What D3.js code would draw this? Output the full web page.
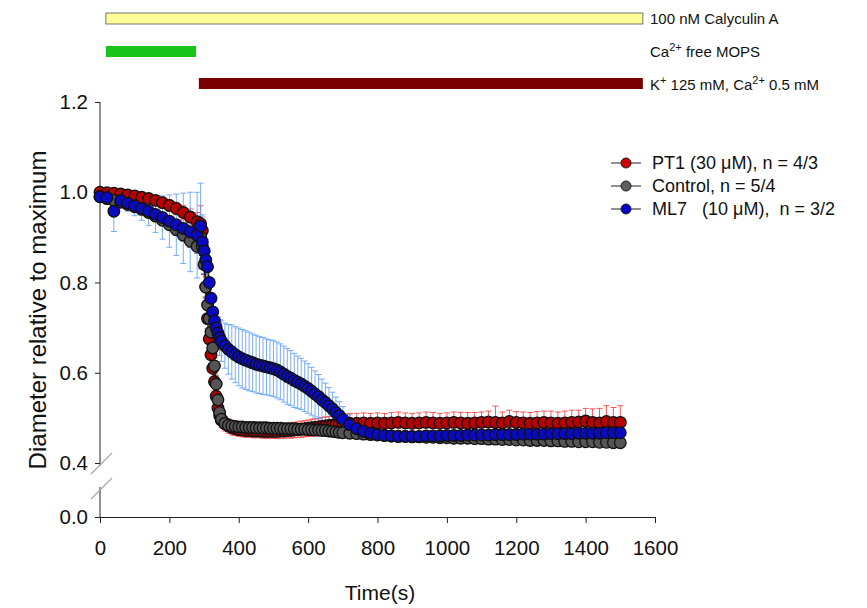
<!DOCTYPE html>
<html>
<head>
<meta charset="utf-8">
<script src="https://cdn.jsdelivr.net/npm/d3@7.9.0/dist/d3.min.js"></script>
<style>
  body { margin: 0; background: #fff; }
  svg { font-family: "Liberation Sans", Arial, sans-serif; }
  .pre { white-space: pre; }
</style>
</head>
<body>
<svg id="chart" width="867" height="608"></svg>
<script>
// time points (s)
const times = [0,20,40,60,80,100,120,140,160,180,200,220,240,260,280,
  290,295,300,305,310,315,320,325,330,335,340,345,350,
  360,370,380,390,400,410,420,430,440,450,460,470,480,490,500,510,520,530,540,550,560,570,580,590,600,610,620,630,640,650,660,670,680,690,700,
  720,740,760,780,800,820,840,860,880,900,920,940,960,980,1000,1020,1040,1060,1080,1100,1120,1140,1160,1180,1200,1220,1240,1260,1280,1300,1320,1340,1360,1380,1400,1420,1440,1460,1480,1500];

// PT1 (30 uM)
const pt1Mean = [1.000,0.999,0.998,0.996,0.994,0.992,0.989,0.986,0.982,0.977,0.971,0.964,0.955,0.945,0.935,
  0.930,0.915,0.870,0.790,0.720,0.675,0.640,0.610,0.580,0.548,0.522,0.505,0.495,
  0.487,0.482,0.478,0.476,0.474,0.473,0.472,0.472,0.471,0.471,0.471,0.470,0.470,0.470,0.470,0.470,0.471,0.471,0.472,0.472,
  0.473,0.474,0.475,0.476,0.477,0.478,0.479,0.480,0.481,0.482,0.483,0.484,0.485,0.486,0.487,
  0.488,0.488,0.489,0.488,0.489,0.488,0.489,0.490,0.489,0.488,0.489,0.490,0.489,0.488,0.489,0.490,0.489,0.488,0.489,0.490,
  0.491,0.490,0.489,0.492,0.490,0.489,0.488,0.489,0.490,0.489,0.488,0.489,0.490,0.491,0.493,0.490,0.489,0.492,0.490,0.490];
const pt1Err = [0.008,0.008,0.008,0.008,0.009,0.009,0.010,0.010,0.011,0.012,0.013,0.014,0.016,0.018,0.020,
  0.040,0.030,0.025,0.025,0.022,0.022,0.020,0.020,0.020,0.020,0.018,0.018,0.017,
  0.016,0.016,0.016,0.015,0.015,0.015,0.015,0.015,0.015,0.015,0.015,0.015,0.015,0.015,0.015,0.016,0.016,0.016,0.016,0.017,
  0.017,0.017,0.018,0.018,0.018,0.019,0.019,0.019,0.020,0.020,0.020,0.020,0.021,0.021,0.021,
  0.022,0.022,0.022,0.022,0.022,0.022,0.023,0.023,0.022,0.022,0.022,0.023,0.023,0.022,0.022,0.023,0.023,0.024,0.023,0.023,
  0.024,0.036,0.024,0.025,0.024,0.024,0.024,0.025,0.025,0.026,0.025,0.026,0.027,0.026,0.028,0.030,0.032,0.035,0.033,0.037];

// Control
const ctrlMean = [0.990,0.986,0.982,0.978,0.973,0.968,0.962,0.955,0.947,0.938,0.928,0.917,0.905,0.892,0.880,
  0.900,0.880,0.840,0.790,0.750,0.720,0.690,0.655,0.615,0.575,0.540,0.512,0.497,
  0.488,0.484,0.482,0.481,0.480,0.480,0.479,0.479,0.479,0.478,0.478,0.478,0.478,0.477,0.477,0.477,0.477,0.476,0.476,0.476,
  0.476,0.475,0.475,0.475,0.474,0.474,0.473,0.473,0.472,0.472,0.471,0.470,0.469,0.468,0.467,
  0.466,0.465,0.464,0.463,0.462,0.461,0.460,0.459,0.459,0.458,0.458,0.457,0.457,0.456,0.456,0.455,0.455,0.455,0.454,0.454,
  0.453,0.453,0.452,0.452,0.451,0.451,0.450,0.450,0.450,0.449,0.449,0.448,0.448,0.447,0.447,0.447,0.446,0.446,0.445,0.445];
const ctrlErr = [0.006,0.006,0.007,0.007,0.008,0.008,0.009,0.009,0.010,0.010,0.011,0.012,0.013,0.014,0.015,
  0.020,0.020,0.022,0.022,0.022,0.020,0.020,0.020,0.018,0.018,0.016,0.014,0.012,
  0.011,0.011,0.010,0.010,0.010,0.010,0.010,0.010,0.010,0.010,0.010,0.010,0.010,0.010,0.010,0.010,0.010,0.010,0.010,0.010,
  0.010,0.010,0.010,0.010,0.010,0.010,0.010,0.010,0.010,0.010,0.010,0.010,0.010,0.010,0.010,
  0.009,0.009,0.009,0.009,0.009,0.009,0.009,0.009,0.009,0.009,0.009,0.009,0.009,0.009,0.009,0.009,0.009,0.009,0.009,0.009,
  0.008,0.008,0.008,0.008,0.008,0.008,0.008,0.008,0.008,0.008,0.008,0.008,0.008,0.008,0.008,0.008,0.008,0.008,0.008,0.008];

// ML7 (10 uM)
const ml7Mean = [0.990,0.988,0.958,0.982,0.976,0.970,0.964,0.958,0.951,0.944,0.936,0.928,0.920,0.912,0.905,
  0.925,0.890,0.870,0.850,0.835,0.800,0.765,0.735,0.715,0.700,0.688,0.678,0.670,
  0.660,0.652,0.646,0.640,0.635,0.631,0.628,0.625,0.622,0.619,0.617,0.615,0.613,0.611,0.609,0.606,0.602,0.597,0.592,0.588,
  0.583,0.579,0.575,0.570,0.565,0.559,0.553,0.547,0.540,0.534,0.527,0.520,0.512,0.505,0.497,
  0.485,0.476,0.470,0.466,0.463,0.461,0.460,0.459,0.459,0.459,0.459,0.460,0.460,0.460,0.461,0.461,0.461,0.462,0.462,0.462,
  0.462,0.463,0.463,0.463,0.463,0.464,0.464,0.464,0.464,0.465,0.465,0.465,0.465,0.466,0.466,0.466,0.466,0.467,0.467,0.467];
const ml7Err = [0.010,0.012,0.045,0.015,0.018,0.022,0.026,0.032,0.040,0.048,0.058,0.068,0.078,0.088,0.095,
  0.095,0.060,0.050,0.045,0.040,0.035,0.030,0.028,0.028,0.030,0.035,0.040,0.045,
  0.050,0.055,0.060,0.062,0.064,0.065,0.065,0.065,0.064,0.064,0.063,0.063,0.062,0.062,0.062,0.062,0.062,0.062,0.062,0.061,
  0.060,0.058,0.057,0.056,0.055,0.053,0.051,0.049,0.046,0.043,0.040,0.037,0.034,0.031,0.028,
  0.022,0.018,0.015,0.013,0.012,0.011,0.010,0.010,0.010,0.010,0.010,0.010,0.010,0.010,0.010,0.010,0.010,0.010,0.010,0.010,
  0.009,0.009,0.009,0.009,0.009,0.009,0.009,0.009,0.009,0.009,0.009,0.009,0.009,0.009,0.009,0.009,0.009,0.009,0.009,0.009];

// protocol bars: [start, end] in seconds
const protocolStarts = [17, 17, 285];
const protocolEnds = [1565, 277, 1565];

const xTicks = [0,200,400,600,800,1000,1200,1400,1600];
const yTicks = [0.4,0.6,0.8,1.0,1.2];

const svg = d3.select('#chart');

let x = d3.scaleLinear().domain([0, 1600]).range([100, 655]);
let yTop = d3.scaleLinear().domain([0.4, 1.2]).range([463, 102]);
let yBot = d3.scaleLinear().domain([0, 0.06]).range([517, 490]);

// protocol bars
let barColors = ['#ffff99', '#19c319', '#7a0000'];
let barY = [13, 46, 78];
protocolStarts.forEach((s, i) => {
  svg.append('rect')
    .attr('x', x(s)).attr('y', barY[i])
    .attr('width', x(protocolEnds[i]) - x(s)).attr('height', 11)
    .attr('fill', barColors[i])
    .attr('stroke', i === 0 ? '#555' : 'none').attr('stroke-width', 0.8);
});

let lab = svg.append('g').attr('font-size', 15).attr('fill', '#111');
lab.append('text').attr('x', 650).attr('y', 24).text('100 nM Calyculin A');
let t2 = lab.append('text').attr('x', 650).attr('y', 57);
t2.append('tspan').text('Ca');
t2.append('tspan').attr('baseline-shift', 'super').attr('font-size', 11).text('2+');
t2.append('tspan').text(' free MOPS');
let t3 = lab.append('text').attr('x', 650).attr('y', 90);
t3.append('tspan').text('K');
t3.append('tspan').attr('baseline-shift', 'super').attr('font-size', 11).text('+');
t3.append('tspan').text(' 125 mM, Ca');
t3.append('tspan').attr('baseline-shift', 'super').attr('font-size', 11).text('2+');
t3.append('tspan').text(' 0.5 mM');

// axes
let yAxis = svg.append('g').attr('transform', 'translate(100,0)')
  .call(d3.axisLeft(yTop).tickValues(yTicks).tickFormat(d3.format('.1f')).tickSize(5).tickPadding(7));
yAxis.select('.domain').remove();
svg.append('line').attr('x1', 100).attr('x2', 100).attr('y1', yTop(1.2)).attr('y2', 466).attr('stroke', '#222');

let yAxis2 = svg.append('g').attr('transform', 'translate(100,0)')
  .call(d3.axisLeft(yBot).tickValues([0]).tickFormat(d3.format('.1f')).tickSize(5).tickPadding(7));
yAxis2.select('.domain').remove();
svg.append('line').attr('x1', 100).attr('x2', 100).attr('y1', 487).attr('y2', 517).attr('stroke', '#222');

// axis break marks
svg.append('line').attr('x1', 91).attr('y1', 474).attr('x2', 112).attr('y2', 453).attr('stroke', '#aaa').attr('stroke-width', 1.3);
svg.append('line').attr('x1', 91).attr('y1', 499).attr('x2', 112).attr('y2', 478).attr('stroke', '#aaa').attr('stroke-width', 1.3);

let xAxis = svg.append('g').attr('transform', 'translate(0,517)')
  .call(d3.axisBottom(x).tickValues(xTicks).tickFormat(d3.format('d')).tickSize(6).tickPadding(17));

svg.selectAll('.tick text').attr('font-size', 20.5).attr('font-family', '"Liberation Sans", Arial, sans-serif').attr('fill', '#111');
svg.selectAll('.tick line, .domain').attr('stroke', '#222');

svg.append('text').attr('x', 380).attr('y', 600).attr('text-anchor', 'middle')
  .attr('font-size', 21).attr('fill', '#111').text('Time(s)');
svg.append('text').attr('transform', 'translate(46,310) rotate(-90)').attr('text-anchor', 'middle')
  .attr('font-size', 24).attr('fill', '#111').text('Diameter relative to maximum');

// series
let series = [
  { name: 'PT1 (30 μM), n = 4/3', mean: pt1Mean, err: pt1Err, fill: '#b80000', errColor: '#ff3b3b' },
  { name: 'Control, n = 5/4', mean: ctrlMean, err: ctrlErr, fill: '#555555', errColor: '#3a3a3a' },
  { name: 'ML7   (10 μM),  n = 3/2', mean: ml7Mean, err: ml7Err, fill: '#0a0ac0', errColor: '#5f9fff' }
];
let legendFill = ['#d00000', '#5e5e5e', '#0000c8'];

let plot = svg.append('g');

series.forEach((s) => {
  let pts = times.map((t, i) => ({ t: t, m: s.mean[i], e: s.err[i] }));
  let g = plot.append('g');
  g.selectAll('line.eb').data(pts).join('line').attr('class', 'eb')
    .attr('x1', (d) => x(d.t)).attr('x2', (d) => x(d.t))
    .attr('y1', (d) => yTop(d.m + d.e)).attr('y2', (d) => yTop(d.m - d.e))
    .attr('stroke', s.errColor).attr('stroke-width', 1).attr('opacity', 0.85);
  g.selectAll('line.capT').data(pts).join('line').attr('class', 'capT')
    .attr('x1', (d) => x(d.t) - 3).attr('x2', (d) => x(d.t) + 3)
    .attr('y1', (d) => yTop(d.m + d.e)).attr('y2', (d) => yTop(d.m + d.e))
    .attr('stroke', s.errColor).attr('stroke-width', 1).attr('opacity', 0.85);
  g.selectAll('line.capB').data(pts).join('line').attr('class', 'capB')
    .attr('x1', (d) => x(d.t) - 3).attr('x2', (d) => x(d.t) + 3)
    .attr('y1', (d) => yTop(d.m - d.e)).attr('y2', (d) => yTop(d.m - d.e))
    .attr('stroke', s.errColor).attr('stroke-width', 1).attr('opacity', 0.85);
  s.pts = pts;
});

series.forEach((s) => {
  let g = plot.append('g');
  let line = d3.line().x((d) => x(d.t)).y((d) => yTop(d.m));
  g.append('path').attr('d', line(s.pts)).attr('fill', 'none').attr('stroke', '#111').attr('stroke-width', 1);
  g.selectAll('circle').data(s.pts).join('circle')
    .attr('cx', (d) => x(d.t)).attr('cy', (d) => yTop(d.m)).attr('r', 5.8)
    .attr('fill', s.fill).attr('stroke', '#111').attr('stroke-width', 1.3);
});

// legend
let legend = svg.append('g').attr('font-size', 18).attr('fill', '#111');
series.forEach((s, i) => {
  let ly = 163 + i * 23;
  legend.append('line').attr('x1', 611).attr('x2', 641).attr('y1', ly).attr('y2', ly).attr('stroke', '#222');
  legend.append('circle').attr('cx', 626).attr('cy', ly).attr('r', 5).attr('fill', legendFill[i]).attr('stroke', '#222');
  legend.append('text').attr('class', 'pre').attr('x', 652).attr('y', ly + 6).text(s.name);
});
</script>
</body>
</html>
